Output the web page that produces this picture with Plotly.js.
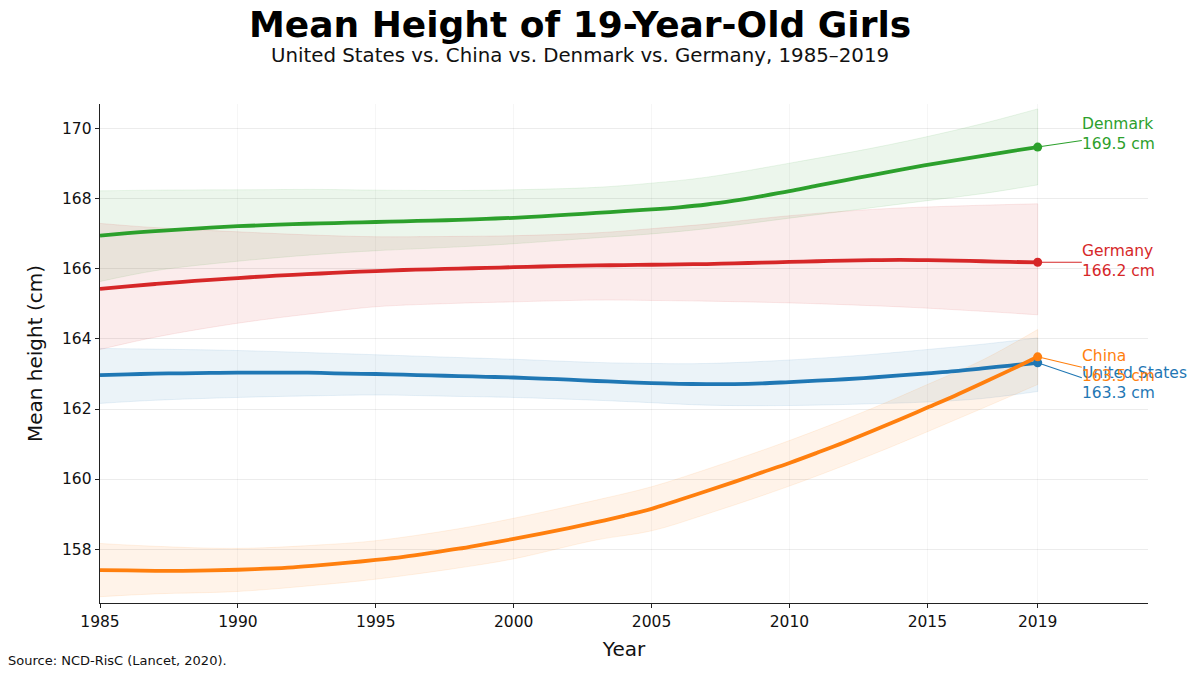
<!DOCTYPE html>
<html>
<head>
<meta charset="utf-8">
<script src="https://cdn.plot.ly/plotly-3.0.1.min.js"></script>
<style>html,body{margin:0;padding:0;background:#fff}#chart{width:1200px;height:676px}</style>
</head>
<body>
<div id="chart"></div>
<script>
// ---- Data ----
const years = [1985,1986,1987,1988,1989,1990,1991,1992,1993,1994,1995,1996,1997,1998,1999,2000,2001,2002,2003,2004,2005,2006,2007,2008,2009,2010,2011,2012,2013,2014,2015,2016,2017,2018,2019];

const usMean      = [162.97,162.99,163.01,163.02,163.03,163.04,163.04,163.04,163.03,163.01,163.00,162.98,162.96,162.94,162.92,162.90,162.87,162.84,162.80,162.77,162.74,162.72,162.71,162.71,162.73,162.77,162.81,162.85,162.90,162.96,163.02,163.08,163.16,163.24,163.32];
const chinaMean   = [157.40,157.39,157.38,157.38,157.39,157.41,157.44,157.48,157.54,157.61,157.69,157.78,157.89,158.01,158.15,158.29,158.44,158.60,158.77,158.95,159.15,159.40,159.66,159.92,160.19,160.46,160.75,161.05,161.37,161.70,162.04,162.38,162.74,163.11,163.49];
const denmarkMean = [166.95,167.02,167.08,167.13,167.18,167.22,167.25,167.28,167.30,167.32,167.34,167.36,167.38,167.40,167.43,167.46,167.50,167.55,167.60,167.65,167.70,167.76,167.84,167.95,168.08,168.22,168.38,168.53,168.68,168.83,168.97,169.10,169.23,169.36,169.48];
const germanyMean = [165.43,165.50,165.57,165.63,165.69,165.74,165.79,165.83,165.87,165.91,165.94,165.97,165.99,166.01,166.03,166.05,166.07,166.09,166.10,166.11,166.12,166.13,166.14,166.16,166.18,166.20,166.22,166.24,166.25,166.26,166.25,166.24,166.22,166.20,166.19];

// uncertainty bands
const bandYears = [1985,1987,1990,1993,1995,1998,2000,2003,2005,2007,2010,2013,2015,2017,2019];
const usUpper      = [163.73,163.71,163.67,163.60,163.55,163.47,163.42,163.33,163.30,163.30,163.40,163.56,163.70,163.85,164.03];
const usLower      = [162.16,162.25,162.33,162.38,162.40,162.36,162.33,162.25,162.18,162.11,162.10,162.15,162.20,162.30,162.50];
const chinaUpper   = [158.16,158.08,158.02,158.12,158.24,158.58,158.88,159.40,159.78,160.28,161.10,162.02,162.70,163.40,164.27];
const chinaLower   = [156.64,156.72,156.79,156.98,157.14,157.46,157.72,158.26,158.52,159.00,159.80,160.70,161.35,162.02,162.70];
const denmarkUpper = [168.23,168.25,168.26,168.27,168.25,168.24,168.26,168.33,168.45,168.62,169.02,169.45,169.78,170.15,170.57];
const denmarkLower = [165.64,165.95,166.22,166.42,166.52,166.63,166.72,166.89,167.00,167.15,167.45,167.75,167.95,168.15,168.40];
const germanyUpper = [167.30,167.18,167.06,166.96,166.92,166.93,166.95,167.03,167.15,167.28,167.52,167.70,167.77,167.82,167.86];
const germanyLower = [163.70,164.05,164.45,164.75,164.92,165.02,165.06,165.11,165.10,165.08,165.03,164.95,164.88,164.79,164.69];

const countries = ["United States","China","Denmark","Germany"];
const xTickVals = [1985,1990,1995,2000,2005,2010,2015,2019];
const yTickVals = [158,160,162,164,166,168,170];

// ---- Styling / layout config ----
const styles = {
  "United States": {rgb:[31,119,180],  mean:usMean,      up:usUpper,      lo:usLower,      labelY:162.74, connY:162.89},
  "China":         {rgb:[255,127,14],  mean:chinaMean,   up:chinaUpper,   lo:chinaLower,   labelY:163.23, connY:163.19},
  "Denmark":       {rgb:[44,160,44],   mean:denmarkMean, up:denmarkUpper, lo:denmarkLower, labelY:169.86, connY:169.67},
  "Germany":       {rgb:[214,39,40],   mean:germanyMean, up:germanyUpper, lo:germanyLower, labelY:166.23, connY:166.19}
};
const labelX = 2020.6;
const rgba = (c,a) => `rgba(${c[0]},${c[1]},${c[2]},${a})`;
const FONT = "DejaVu Sans, Verdana, sans-serif";

const traces = [];
const annotations = [];
countries.forEach(name => {
  const s = styles[name];
  traces.push({x: bandYears, y: s.lo, type:"scatter", mode:"lines", line:{color:rgba(s.rgb,0.12), width:0.8, shape:"spline"}, hoverinfo:"skip", showlegend:false});
  traces.push({x: bandYears, y: s.up, type:"scatter", mode:"lines", fill:"tonexty", fillcolor:rgba(s.rgb,0.09), line:{color:rgba(s.rgb,0.12), width:0.8, shape:"spline"}, hoverinfo:"skip", showlegend:false});
});
// right edge of bands (closing vertical line)
countries.forEach(name => {
  const s = styles[name];
  const n = bandYears.length - 1;
  traces.push({x:[bandYears[n], bandYears[n]], y:[s.lo[n], s.up[n]], type:"scatter", mode:"lines", line:{color:rgba(s.rgb,0.12), width:0.8}, hoverinfo:"skip", showlegend:false});
});
countries.forEach(name => {
  const s = styles[name];
  traces.push({x: years, y: s.mean, type:"scatter", mode:"lines", name:name, line:{color:rgba(s.rgb,1), width:3.8, shape:"spline"}, showlegend:false});
});
countries.forEach(name => {
  const s = styles[name];
  const n = years.length - 1;
  const v = s.mean[n];
  // connector
  traces.push({x:[years[n], labelX], y:[v, s.connY], type:"scatter", mode:"lines", line:{color:rgba(s.rgb,1), width:1.1}, hoverinfo:"skip", showlegend:false});
  // end marker
  traces.push({x:[years[n]], y:[v], type:"scatter", mode:"markers", marker:{color:rgba(s.rgb,1), size:9}, hoverinfo:"skip", showlegend:false});
  annotations.push({x:labelX, y:s.labelY, xref:"x", yref:"y", xanchor:"left", yanchor:"middle", align:"left", showarrow:false,
    text: name + "<br>" + v.toFixed(1) + " cm", font:{family:FONT, size:15.5, color:rgba(s.rgb,1)}, xshift:-2});
});

// plot area spans x 100..1148, y 104..603 in pixels
annotations.push({x:-0.0897, y:-0.1162, xref:"paper", yref:"paper", xanchor:"left", yanchor:"middle", showarrow:false,
  text:"Source: NCD-RisC (Lancet, 2020).", font:{family:FONT, size:13, color:"#111"}});
annotations.push({x:0.458, y:1.1603, xref:"paper", yref:"paper", xanchor:"center", yanchor:"middle", showarrow:false,
  text:"<b>Mean Height of 19-Year-Old Girls</b>", font:{family:FONT, size:36, color:"#000"}});
annotations.push({x:0.458, y:1.0962, xref:"paper", yref:"paper", xanchor:"center", yanchor:"middle", showarrow:false,
  text:"United States vs. China vs. Denmark vs. Germany, 1985–2019", font:{family:FONT, size:19.8, color:"#111"}});

const layout = {
  width:1200, height:676,
  paper_bgcolor:"#fff", plot_bgcolor:"#fff",
  margin:{l:100, r:52, t:104, b:73},
  font:{family:FONT, color:"#111"},
  showlegend:false,
  xaxis:{
    range:[1985, 2023], tickvals:xTickVals, ticktext:xTickVals.map(String),
    ticks:"outside", ticklen:4, tickwidth:1, tickcolor:"#222",
    showline:true, linecolor:"#222", linewidth:1.3,
    showgrid:true, gridcolor:"rgba(0,0,0,0.035)", gridwidth:1, zeroline:false,
    tickfont:{family:FONT, size:15.5, color:"#111"},
    title:{text:"Year", font:{family:FONT, size:20, color:"#111"}, standoff:12}
  },
  yaxis:{
    range:[156.46, 170.71], tickvals:yTickVals, ticktext:yTickVals.map(String),
    ticks:"outside", ticklen:4, tickwidth:1, tickcolor:"#222",
    showline:true, linecolor:"#222", linewidth:1.3,
    showgrid:true, gridcolor:"rgba(0,0,0,0.075)", gridwidth:1, zeroline:false,
    tickfont:{family:FONT, size:15.5, color:"#111"},
    title:{text:"Mean height (cm)", font:{family:FONT, size:20, color:"#111"}, standoff:14}
  },
  annotations: annotations
};

Plotly.newPlot("chart", traces, layout, {displayModeBar:false, staticPlot:true});
</script>
</body>
</html>
